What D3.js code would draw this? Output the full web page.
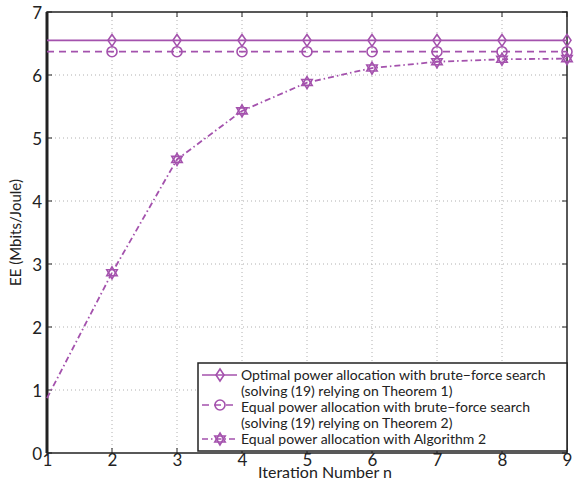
<!DOCTYPE html>
<html><head><meta charset="utf-8">
<script src="https://cdn.jsdelivr.net/npm/d3@7"></script>
<style>body{margin:0;background:#fff}svg{display:block}</style>
</head><body>
<svg id="c" width="575" height="482"></svg>
<script>
const iterations = [1,2,3,4,5,6,7,8,9];
const optimalBrute = [6.55,6.55,6.55,6.55,6.55,6.55,6.55,6.55,6.55];
const equalBrute = [6.37,6.37,6.37,6.37,6.37,6.37,6.37,6.37,6.37];
const equalAlg2 = [0.87,2.86,4.66,5.43,5.88,6.11,6.21,6.25,6.26];
const xTicks = [1,2,3,4,5,6,7,8,9];
const yTicks = [0,1,2,3,4,5,6,7];
const legendLabels = [
  ["Optimal power allocation with brute\u2212force search","(solving (19) relying on Theorem 1)"],
  ["Equal power allocation with brute\u2212force search","(solving (19) relying on Theorem 2)"],
  ["Equal power allocation with Algorithm 2"]
];

const col = "#a452ad";
const font = "Lato, 'Noto Sans', sans-serif";
const svg = d3.select("#c");
const L=47, R=567, T=12, B=453;
const x = d3.scaleLinear().domain([1,9]).range([L,R]);
const y = d3.scaleLinear().domain([0,7]).range([B,T]);

// grid
const g = svg.append("g");
xTicks.slice(1,-1).forEach(v=>g.append("line").attr("x1",x(v)).attr("x2",x(v)).attr("y1",T).attr("y2",B)
  .attr("stroke","#b0b0b0").attr("stroke-width",1).attr("stroke-dasharray","1,3"));
yTicks.slice(1,-1).forEach(v=>g.append("line").attr("x1",L).attr("x2",R).attr("y1",y(v)).attr("y2",y(v))
  .attr("stroke","#b0b0b0").attr("stroke-width",1).attr("stroke-dasharray","1,3"));

// axes
const ax = svg.append("g").attr("transform",`translate(0,${B})`).call(d3.axisBottom(x).tickValues(xTicks).tickSize(0).tickPadding(0).tickFormat(d3.format("d")));
const ay = svg.append("g").attr("transform",`translate(${L},0)`).call(d3.axisLeft(y).tickValues(yTicks).tickSize(0).tickPadding(5).tickFormat(d3.format("d")));
[ax,ay].forEach(a=>{a.select(".domain").remove();a.selectAll("text").attr("font-family",font).attr("font-size",17).attr("fill","#222");});
ay.selectAll("text").attr("dy","0.36em");
ax.selectAll("text").attr("y",13).attr("dy",null);
// inner ticks
xTicks.forEach(v=>{svg.append("line").attr("x1",x(v)).attr("x2",x(v)).attr("y1",B).attr("y2",B-5).attr("stroke","#222");
  svg.append("line").attr("x1",x(v)).attr("x2",x(v)).attr("y1",T).attr("y2",T+5).attr("stroke","#222");});
yTicks.forEach(v=>{svg.append("line").attr("x1",L).attr("x2",L+5).attr("y1",y(v)).attr("y2",y(v)).attr("stroke","#222");
  svg.append("line").attr("x1",R).attr("x2",R-5).attr("y1",y(v)).attr("y2",y(v)).attr("stroke","#222");});
svg.append("rect").attr("x",L).attr("y",T).attr("width",R-L).attr("height",B-T).attr("fill","none").attr("stroke","#222").attr("stroke-width",1.5);
svg.append("line").attr("x1",L).attr("x2",L).attr("y1",T).attr("y2",B).attr("stroke","#222").attr("stroke-width",3);

// labels
svg.append("text").attr("x",325).attr("y",478).attr("text-anchor","middle").attr("font-family",font).attr("font-size",16).attr("fill","#222").text("Iteration Number n");
svg.append("text").attr("transform",`translate(21,${(T+B)/2}) rotate(-90)`).attr("text-anchor","middle").attr("font-family",font).attr("font-size",15).attr("fill","#222").text("EE (Mbits/Joule)");

// markers
function diamond(sel,cx,cy){sel.append("path").attr("d",`M${cx},${cy-6}L${cx+4},${cy}L${cx},${cy+6}L${cx-4},${cy}Z`).attr("fill","none").attr("stroke",col).attr("stroke-width",1.6);}
function circle(sel,cx,cy){sel.append("circle").attr("cx",cx).attr("cy",cy).attr("r",5).attr("fill","none").attr("stroke",col).attr("stroke-width",1.6);}
function hexa(sel,cx,cy){const r=6;
  const t1=[0,1,2].map(i=>[cx+r*Math.sin(i*2*Math.PI/3),cy-r*Math.cos(i*2*Math.PI/3)]);
  const t2=[0,1,2].map(i=>[cx+r*Math.sin(i*2*Math.PI/3+Math.PI),cy-r*Math.cos(i*2*Math.PI/3+Math.PI)]);
  [t1,t2].forEach(t=>sel.append("path").attr("d","M"+t.map(p=>p.join(",")).join("L")+"Z").attr("fill","none").attr("stroke",col).attr("stroke-width",1.6));}

const series = [
  {v:optimalBrute,dash:null,m:diamond},
  {v:equalBrute,dash:"7,5",m:circle},
  {v:equalAlg2,dash:"6,3,1.5,3",m:hexa}
];
const line = d3.line().x((d,i)=>x(iterations[i])).y(d=>y(d));
const pg = svg.append("g");
series.forEach(s=>{
  pg.append("path").datum(s.v).attr("d",line).attr("fill","none").attr("stroke",col).attr("stroke-width",1.8).attr("stroke-dasharray",s.dash);
  s.v.forEach((d,i)=>{ if(i>0) s.m(pg,x(iterations[i]),y(d)); });
});

// legend
const lg = svg.append("g");
lg.append("rect").attr("x",198).attr("y",363).attr("width",369).attr("height",88).attr("fill","#fff").attr("stroke","#222").attr("stroke-width",1.5);
const lineY=[375,405,439];
const baseY=[[380,396],[412,428],[444]];
legendLabels.forEach((lab,i)=>{
  const ly=lineY[i];
  lg.append("line").attr("x1",202).attr("x2",237).attr("y1",ly).attr("y2",ly).attr("stroke",col).attr("stroke-width",1.6).attr("stroke-dasharray",series[i].dash);
  series[i].m(lg,220,ly);
  lab.forEach((t,j)=>lg.append("text").attr("x",241).attr("y",baseY[i][j]).attr("font-family",font).attr("font-size",14).attr("fill","#222").text(t));
});
</script>
</body></html>
